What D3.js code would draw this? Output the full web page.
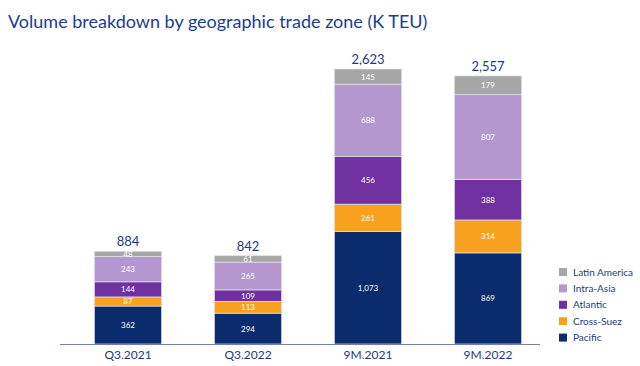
<!DOCTYPE html>
<html><head><meta charset="utf-8">
<script src="https://cdn.jsdelivr.net/npm/d3@7"></script>
<style>body{margin:0;background:#fff}svg{display:block}</style>
</head><body>
<script>
const categories = ["Q3.2021","Q3.2022","9M.2021","9M.2022"];
const seriesNames = ["Pacific","Cross-Suez","Atlantic","Intra-Asia","Latin America"];
const pacific = [362, 294, 1073, 869];
const crossSuez = [87, 113, 261, 314];
const atlantic = [144, 109, 456, 388];
const intraAsia = [243, 265, 688, 807];
const latinAmerica = [48, 61, 145, 179];
const totals = [884, 842, 2623, 2557];
const totalLabels = ["884","842","2,623","2,557"];
const colors = ["#0a2b6c","#f8a11e","#7030a0","#b597d0","#a6a6a6"];

const W=640,H=366;
const svg=d3.select("body").append("svg").attr("width",W).attr("height",H);
const font="Lato, 'Open Sans', sans-serif";
const dark="#1d3a7c";

svg.append("text").attr("x",8).attr("y",28).attr("font-family",font)
  .attr("font-size",18).attr("fill","#1b3d8f").text("Volume breakdown by geographic trade zone (K TEU)");

const x=d3.scaleBand().domain(categories).range([68,548]).paddingInner(0.44).paddingOuter(0.22);
const y=d3.scaleLinear().domain([0,2623]).range([344,69]);

const table=categories.map((c,i)=>({cat:c,Pacific:pacific[i],"Cross-Suez":crossSuez[i],Atlantic:atlantic[i],"Intra-Asia":intraAsia[i],"Latin America":latinAmerica[i]}));
const stack=d3.stack().keys(seriesNames)(table);

const g=svg.append("g");
stack.forEach((s,si)=>{
  const sg=g.append("g");
  sg.selectAll("rect").data(s).join("rect")
    .attr("x",d=>x(d.data.cat)).attr("width",x.bandwidth())
    .attr("y",d=>y(d[1])).attr("height",d=>y(d[0])-y(d[1]))
    .attr("fill",colors[si]).attr("stroke","#dfe0ea").attr("stroke-width",0.7);
  sg.selectAll("text").data(s).join("text")
    .attr("x",d=>x(d.data.cat)+x.bandwidth()/2)
    .attr("y",d=>(y(d[0])+y(d[1]))/2+3)
    .attr("text-anchor","middle").attr("font-family",font).attr("font-size",8)
    .attr("fill","#fff")
    .text(d=>d3.format(",")(d[1]-d[0]));
});

svg.selectAll(".tot").data(categories).join("text")
  .attr("x",c=>x(c)+x.bandwidth()/2)
  .attr("y",(c,i)=>y(totals[i])-5)
  .attr("text-anchor","middle").attr("font-family",font).attr("font-size",13)
  .attr("fill",dark).text((c,i)=>totalLabels[i]);

svg.append("line").attr("x1",60).attr("x2",540).attr("y1",344.5).attr("y2",344.5)
  .attr("stroke","#6f7fa8").attr("stroke-width",1);

svg.selectAll(".cat").data(categories).join("text")
  .attr("x",c=>x(c)+x.bandwidth()/2).attr("y",359)
  .attr("text-anchor","middle").attr("font-family",font).attr("font-size",12)
  .attr("fill",dark).text(c=>c);

const legendOrder=["Latin America","Intra-Asia","Atlantic","Cross-Suez","Pacific"];
const lg=svg.append("g");
legendOrder.forEach((n,i)=>{
  const yy=272+i*16.4;
  lg.append("rect").attr("x",559).attr("y",yy-4).attr("width",8).attr("height",8)
    .attr("fill",colors[seriesNames.indexOf(n)]);
  lg.append("text").attr("x",573).attr("y",yy+3.5).attr("font-family",font)
    .attr("font-size",10).attr("fill",dark).text(n);
});
</script>
</body></html>
